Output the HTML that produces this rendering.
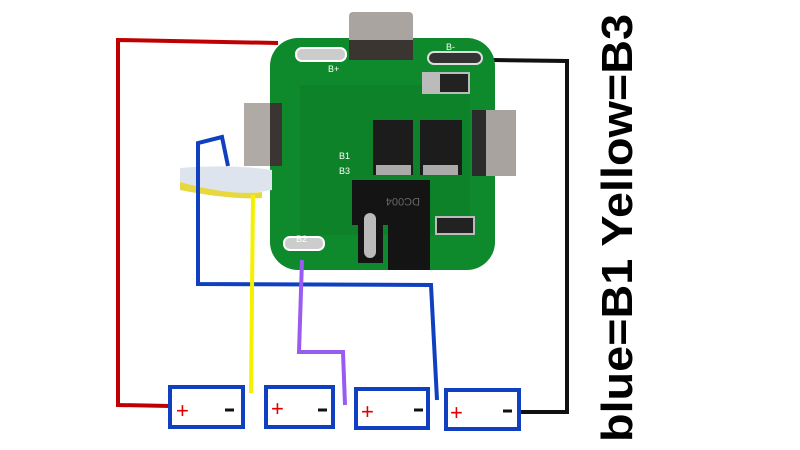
<!DOCTYPE html>
<html><head><meta charset="utf-8"><style>
html,body{margin:0;padding:0;background:#fff;width:800px;height:450px;overflow:hidden}
svg{display:block}
</style></head><body>
<svg width="800" height="450" viewBox="0 0 800 450" xmlns="http://www.w3.org/2000/svg" font-family="Liberation Sans, sans-serif">
<rect width="800" height="450" fill="#fff"/>
<!-- red wire -->
<polyline points="278,43 118,40 118,405 170,406" fill="none" stroke="#c00000" stroke-width="4"/>
<!-- black wire -->
<polyline points="493,60 567,61 567,412 520,412" fill="none" stroke="#111" stroke-width="4"/>
<!-- board -->
<rect x="270" y="38" width="225" height="232" rx="28" fill="#0e8a2c"/>
<rect x="300" y="85" width="170" height="150" fill="#0b7a26" opacity="0.5"/>
<!-- pads -->
<rect x="296" y="48" width="50" height="13" rx="6" fill="#ccc" stroke="#fff" stroke-width="2"/>
<rect x="428" y="52" width="54" height="12" rx="6" fill="#333" stroke="#ddd" stroke-width="2"/>
<rect x="284" y="237" width="40" height="13" rx="6" fill="#ccc" stroke="#fff" stroke-width="2"/>
<text x="328" y="72" font-size="9" fill="#fff">B+</text>
<text x="446" y="50" font-size="9" fill="#fff">B-</text>
<text x="296" y="242" font-size="9" fill="#fff">B2</text>
<text x="339" y="159" font-size="9" fill="#fff">B1</text>
<text x="339" y="174" font-size="9" fill="#fff">B3</text>
<!-- top tab -->
<rect x="349" y="12" width="64" height="48" rx="4" fill="#a9a49f"/>
<rect x="349" y="40" width="64" height="20" fill="#3a3530"/>
<!-- left tab -->
<rect x="244" y="103" width="38" height="63" fill="#b0aaa5"/>
<rect x="270" y="103" width="12" height="63" fill="#3a3530"/>
<!-- right tab -->
<rect x="472" y="110" width="44" height="66" fill="#a8a39e"/>
<rect x="472" y="110" width="14" height="66" fill="#2b2b2b"/>
<!-- components -->
<rect x="422" y="72" width="48" height="22" fill="#bbb"/>
<rect x="440" y="74" width="28" height="18" fill="#222"/>
<rect x="373" y="120" width="40" height="55" fill="#1c1c1c"/>
<rect x="420" y="120" width="42" height="55" fill="#1c1c1c"/>
<rect x="376" y="165" width="35" height="10" fill="#aaa"/>
<rect x="423" y="165" width="35" height="10" fill="#aaa"/>
<rect x="352" y="180" width="78" height="45" fill="#141414"/>
<rect x="388" y="225" width="42" height="45" fill="#141414"/>
<rect x="358" y="225" width="25" height="38" fill="#141414"/>
<rect x="364" y="213" width="12" height="45" rx="6" fill="#bbb"/>
<text x="370" y="202" font-size="11" fill="#666" transform="rotate(180 395 200)">DC004</text>
<rect x="436" y="217" width="38" height="17" fill="#222" stroke="#bbb" stroke-width="2"/>
<!-- cable bundle -->
<path d="M180,168 Q230,164 272,170 L272,190 Q230,198 180,188 Z" fill="#dde4ee"/>
<path d="M180,182 Q230,196 262,192 L262,198 Q230,200 180,190 Z" fill="#e8d840"/>
<!-- blue wire -->
<polyline points="228,166 222,137 198,143 198,284 431,285 437,400" fill="none" stroke="#1040c0" stroke-width="4"/>
<!-- yellow -->
<line x1="253" y1="195" x2="251" y2="393" stroke="#f4f000" stroke-width="4"/>
<!-- purple -->
<polyline points="302,260 299,352 343,352 345,405" fill="none" stroke="#9a5cf0" stroke-width="4"/>
<!-- batteries -->
<g fill="#fff" stroke="#1040c0" stroke-width="4">
<rect x="170" y="387" width="73" height="40"/>
<rect x="266" y="387" width="67" height="40"/>
<rect x="356" y="389" width="72" height="39"/>
<rect x="446" y="390" width="73" height="39"/>
</g>
<g font-size="22" fill="#e00000">
<text x="176" y="418">+</text><text x="271" y="416">+</text><text x="361" y="419">+</text><text x="450" y="420">+</text>
</g>
<g stroke="#111" stroke-width="3">
<line x1="225" y1="410" x2="234" y2="410"/><line x1="318" y1="410" x2="327" y2="410"/>
<line x1="414" y1="410" x2="423" y2="410"/><line x1="503" y1="411" x2="512" y2="411"/>
</g>
<!-- vertical label -->
<text x="0" y="0" font-size="44" font-weight="bold" fill="#000" transform="translate(632,442) rotate(-90)" textLength="428" lengthAdjust="spacingAndGlyphs">blue=B1 Yellow=B3</text>
</svg>
</body></html>
